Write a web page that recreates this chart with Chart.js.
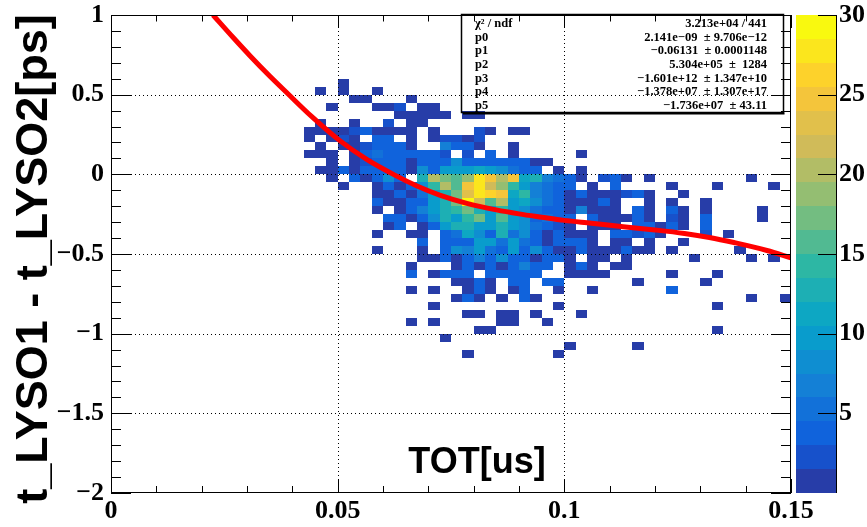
<!DOCTYPE html>
<html><head><meta charset="utf-8">
<script src="https://cdn.jsdelivr.net/npm/chart.js@4.4.0/dist/chart.umd.min.js"></script>
<style>html,body{margin:0;padding:0;background:#fff;}#wrap{width:867px;height:527px;}</style>
</head><body><div id="wrap"><canvas id="c" width="867" height="527"></canvas></div>
<script>
// ---- axis ranges / binning ----
const xRange = [0, 0.15];
const yRange = [-2, 1];
const nBinsX = 60, nBinsY = 60;
const firstBinX = 16;        // column index of counts[r][0]
const firstBinYFromTop = 8;  // row index (from the top) of counts[0]
const zMax = 30;
const nContours = 20;

// ---- tick labels ----
const xTicks = [0, 0.05, 0.1, 0.15];
const yTicks = [1, 0.5, 0, -0.5, -1, -1.5, -2];
const zTicks = [5, 10, 15, 20, 25, 30];

// ---- 2D histogram bin contents (rows top->bottom, y from 0.6 down; columns x from 0.04) ----
const counts = [
 [0,0,0,0, 1,0,0,0, 0,0,0,0, 0,0,0,0, 0,0,0,0, 0,0,0,0, 0,0,0,0, 0,0,0,0, 0,0,0,0, 0,0,0,0, 0,0,0,0],
 [0,0,1,0, 1,0,0,1, 0,0,0,0, 0,0,0,0, 0,0,0,0, 0,0,0,0, 0,0,0,0, 0,0,0,0, 0,0,0,0, 0,0,0,0, 0,0,0,0],
 [0,0,0,0, 0,1,1,0, 0,0,1,0, 0,0,0,0, 0,0,0,0, 0,0,0,0, 0,0,0,0, 0,0,0,0, 0,0,0,0, 0,0,0,0, 0,0,0,0],
 [0,0,0,1, 0,0,0,1, 1,2,0,1, 1,0,0,0, 0,0,0,0, 0,0,0,0, 0,0,0,0, 0,0,0,0, 0,0,0,0, 0,0,0,0, 0,0,0,0],
 [0,0,0,0, 0,0,0,0, 0,1,1,1, 1,1,0,1, 1,0,0,0, 0,0,0,0, 0,0,0,0, 0,0,0,0, 0,0,0,0, 0,0,0,0, 0,0,0,0],
 [0,0,1,0, 0,1,0,0, 2,0,1,1, 0,0,0,0, 0,0,0,0, 0,0,0,0, 0,0,0,0, 0,0,0,0, 0,0,0,0, 0,0,0,0, 0,0,0,0],
 [0,1,1,1, 1,2,3,1, 1,1,1,0, 1,0,0,0, 2,1,0,1, 1,0,0,0, 0,0,0,0, 0,0,0,0, 0,0,0,0, 0,0,0,0, 0,0,0,0],
 [0,1,0,1, 2,1,0,3, 3,0,1,0, 1,2,2,1, 2,0,0,0, 0,0,0,0, 0,0,0,0, 0,0,0,0, 0,0,0,0, 0,0,0,0, 0,0,0,0],
 [0,0,1,0, 1,1,2,3, 3,3,1,0, 0,6,3,3, 1,0,0,1, 0,0,0,0, 0,0,0,0, 0,0,0,0, 0,0,0,0, 0,0,0,0, 0,0,0,0],
 [0,1,1,1, 0,1,3,5, 3,3,3,3, 3,2,0,2, 0,3,0,1, 0,0,0,0, 0,1,0,0, 0,0,0,0, 0,0,0,0, 0,0,0,0, 0,0,0,0],
 [0,0,0,1, 0,1,2,3, 4,3,1,3, 4,3,8,3, 4,3,3,4, 3,1,1,0, 0,0,0,0, 0,0,0,0, 0,0,0,0, 0,0,0,0, 0,0,0,0],
 [0,0,1,1, 3,1,3,3, 4,3,1,8, 4,9,9,10, 11,9,8,5, 4,3,0,1, 0,1,0,0, 0,0,0,0, 0,0,0,0, 0,0,0,0, 0,0,0,0],
 [0,0,0,1, 0,4,1,4, 8,4,0,13, 20,17,16,18, 28,25,20,25, 11,13,6,5, 3,1,0,2, 3,1,0,1, 0,0,0,0, 0,0,0,0, 1,0,0,0],
 [0,0,0,0, 1,0,0,1, 4,1,4,8, 14,20,15,24, 27,21,19,14, 10,6,5,4, 3,0,1,0, 4,0,0,0, 0,1,0,0, 0,1,0,0, 0,0,1,0],
 [0,0,0,0, 0,0,0,1, 1,4,1,5, 10,13,17,23, 27,26,25,11, 14,6,5,3, 1,3,1,1, 1,2,3,1, 0,0,1,0, 0,0,0,0, 0,0,0,0],
 [0,0,0,0, 0,0,0,4, 1,1,4,4, 10,12,17,30, 21,15,20,10, 11,8,5,3, 1,1,1,3, 1,0,0,1, 0,1,0,0, 1,0,0,0, 0,0,0,0],
 [0,0,0,0, 0,0,0,1, 0,1,4,6, 10,12,14,17, 13,10,14,10, 8,5,4,4, 1,6,1,1, 1,0,3,1, 0,4,1,0, 1,0,0,0, 0,1,0,0],
 [0,0,0,0, 0,0,0,0, 4,3,1,4, 8,13,10,14, 17,10,15,10, 8,4,5,4, 3,0,3,1, 1,1,3,1, 0,2,1,0, 3,0,0,0, 0,1,0,0],
 [0,0,0,0, 0,0,0,0, 1,3,0,1, 4,9,12,13, 10,10,13,10, 8,5,4,2, 1,0,1,1, 1,0,3,3, 1,3,1,0, 3,0,0,0, 0,0,0,0],
 [0,0,0,0, 0,0,0,1, 0,0,1,1, 0,4,5,11, 8,4,12,5, 8,4,1,4, 1,1,1,0, 3,3,2,3, 1,0,0,0, 2,0,1,0, 0,0,0,0],
 [0,0,0,0, 0,0,0,0, 0,0,0,3, 0,4,4,4, 10,10,5,10, 5,4,1,4, 4,3,1,0, 1,1,0,1, 0,0,1,0, 0,0,0,0, 0,0,0,0],
 [0,0,0,0, 0,0,0,1, 0,0,0,1, 0,4,8,6, 10,5,4,10, 4,8,4,1, 1,3,1,1, 1,3,1,1, 0,1,0,0, 0,0,0,1, 0,0,0,0],
 [0,0,0,0, 0,0,0,0, 0,0,0,1, 1,3,1,4, 6,4,8,4, 4,1,4,4, 1,0,1,1, 0,1,0,0, 0,0,0,1, 0,0,0,0, 1,0,1,0],
 [0,0,0,0, 0,0,0,0, 0,0,1,0, 0,0,1,4, 1,4,1,4, 6,4,3,0, 1,3,1,0, 1,1,0,0, 0,0,0,0, 0,0,0,0, 0,0,0,0],
 [0,0,0,0, 0,0,0,0, 0,0,3,0, 1,4,4,4, 0,4,4,4, 4,4,0,0, 1,1,1,1, 0,0,0,0, 0,1,0,0, 0,1,0,0, 0,0,0,0],
 [0,0,0,0, 0,0,0,0, 0,0,0,0, 0,0,1,1, 3,1,0,4, 3,0,3,3, 0,0,0,0, 0,0,1,0, 0,0,0,0, 1,0,0,0, 0,0,0,0],
 [0,0,0,0, 0,0,0,0, 0,0,1,0, 1,0,0,1, 3,1,0,1, 3,0,0,1, 0,0,1,0, 0,0,0,0, 0,3,0,0, 0,0,0,0, 0,0,0,0],
 [0,0,0,0, 0,0,0,0, 0,0,0,0, 0,0,1,3, 1,0,1,0, 3,1,0,0, 0,0,0,0, 0,0,0,0, 0,0,0,0, 0,0,0,0, 1,0,0,1],
 [0,0,0,0, 0,0,0,0, 0,0,0,0, 1,0,0,0, 0,0,0,0, 0,0,0,1, 0,0,0,0, 0,0,0,0, 0,0,0,0, 0,1,0,0, 0,0,0,0],
 [0,0,0,0, 0,0,0,0, 0,0,0,0, 0,0,0,1, 1,0,1,1, 0,1,0,0, 0,1,0,0, 0,0,0,0, 0,0,0,0, 0,0,0,0, 0,0,0,0],
 [0,0,0,0, 0,0,0,0, 0,0,1,0, 1,0,0,0, 0,0,1,1, 0,0,1,0, 0,0,0,0, 0,0,0,0, 0,0,0,0, 0,0,0,0, 0,0,0,0],
 [0,0,0,0, 0,0,0,0, 0,0,0,0, 0,0,0,0, 1,1,0,0, 0,0,0,0, 0,0,0,0, 0,0,0,0, 0,0,0,0, 0,1,0,0, 0,0,0,0],
 [0,0,0,0, 0,0,0,0, 0,0,0,0, 0,1,0,0, 0,0,0,0, 0,0,0,0, 0,0,0,0, 0,0,0,0, 0,0,0,0, 0,0,0,0, 0,0,0,0],
 [0,0,0,0, 0,0,0,0, 0,0,0,0, 0,0,0,0, 0,0,0,0, 0,0,0,0, 1,0,0,0, 0,0,1,0, 0,0,0,0, 0,0,0,0, 0,0,0,0],
 [0,0,0,0, 0,0,0,0, 0,0,0,0, 0,0,0,1, 0,0,0,0, 0,0,0,1, 0,0,0,0, 0,0,0,0, 0,0,0,0, 0,0,0,0, 0,0,0,0]
];

// ---- fitted curve ----
const fitX = [0.0225,0.027,0.0307,0.035,0.0388,0.0443,0.0504,0.0565,0.0626,0.0675,0.0725,0.0785,0.085,0.09,0.095,0.1,0.106,0.113,0.12,0.1265,0.132,0.1374,0.1447,0.15];
const fitY = [1.0,0.857,0.743,0.617,0.512,0.362,0.213,0.092,-0.005,-0.073,-0.130,-0.182,-0.223,-0.248,-0.269,-0.289,-0.307,-0.329,-0.349,-0.371,-0.396,-0.428,-0.478,-0.525];

// ---- stats box ----
const statsNames = ["\u03C7\u00B2 / ndf","p0","p1","p2","p3","p4","p5"];
const statsValues = ["3.213e+04 / 441","2.141e\u221209  \u00B1 9.706e\u221212","\u22120.06131  \u00B1 0.0001148","5.304e+05  \u00B1  1284","\u22121.601e+12  \u00B1 1.347e+10","\u22121.378e+07  \u00B1 1.307e+17","\u22121.736e+07  \u00B1 43.11"];

const xTitle = "TOT[us]";
const yTitle = "t_LYSO1 - t_LYSO2[ps]";

// ---- kBird palette ----
const birdStops = [0,0.125,0.25,0.375,0.5,0.625,0.75,0.875,1];
const birdR = [0.2082,0.0592,0.0780,0.0232,0.1802,0.5301,0.8186,0.9956,0.9764];
const birdG = [0.1664,0.3599,0.5041,0.6419,0.7178,0.7492,0.7328,0.7862,0.9832];
const birdB = [0.5293,0.8684,0.8385,0.7914,0.6425,0.4662,0.3499,0.1968,0.0539];
function bird(t){
  let s=0; while(s<birdStops.length-2 && t>birdStops[s+1]) s++;
  const f=(t-birdStops[s])/(birdStops[s+1]-birdStops[s]);
  const c=a=>Math.round(255*(a[s]+(a[s+1]-a[s])*f));
  return `rgb(${c(birdR)},${c(birdG)},${c(birdB)})`;
}
function levelColor(k){ const idx=Math.min(254,Math.floor((k+0.99)*255/nContours)); return bird(idx/255); }
function levelOf(z){ return Math.min(nContours-1, Math.floor(0.01+z*nContours/zMax)); }
const fmt = v => { let s = (Math.round(v*1000)/1000).toString(); return s.replace('-', '\u2212'); };

const SERIF = "'Liberation Serif','DejaVu Serif',serif";
const SANS = "'Liberation Sans',Arial,sans-serif";

const rootPlugin = {
  id:'root',
  beforeDatasetsDraw(chart){
    const {ctx, chartArea:a, scales:{x,y}} = chart;
    const dx=(xRange[1]-xRange[0])/nBinsX, dy=(yRange[1]-yRange[0])/nBinsY;
    ctx.save();
    ctx.beginPath(); ctx.rect(a.left,a.top,a.right-a.left,a.bottom-a.top); ctx.clip();
    counts.forEach((row,r)=>{
      row.forEach((z,c)=>{
        if(!z) return;
        const xv0=xRange[0]+(firstBinX+c)*dx, yv0=yRange[1]-(firstBinYFromTop+r)*dy;
        const px0=Math.round(x.getPixelForValue(xv0)), px1=Math.round(x.getPixelForValue(xv0+dx));
        const py0=Math.round(y.getPixelForValue(yv0)), py1=Math.round(y.getPixelForValue(yv0-dy));
        ctx.fillStyle=levelColor(levelOf(z));
        ctx.fillRect(px0,py0,px1-px0,py1-py0);
      });
    });
    // dotted grid
    ctx.strokeStyle='#000'; ctx.lineWidth=1; ctx.setLineDash([1,3]);
    xTicks.forEach(v=>{ const p=Math.round(x.getPixelForValue(v))+0.5; if(p<=a.left+1||p>=a.right-1) return;
      ctx.beginPath(); ctx.moveTo(p,a.top); ctx.lineTo(p,a.bottom); ctx.stroke(); });
    yTicks.forEach(v=>{ const p=Math.round(y.getPixelForValue(v))+0.5; if(p<=a.top+1||p>=a.bottom-1) return;
      ctx.beginPath(); ctx.moveTo(a.left,p); ctx.lineTo(a.right,p); ctx.stroke(); });
    ctx.restore();
  },
  afterDatasetsDraw(chart){
    const {ctx, chartArea:a, scales:{x,y,z}} = chart;
    ctx.save();
    ctx.strokeStyle='#000'; ctx.lineWidth=1; ctx.setLineDash([]);
    // frame
    ctx.strokeRect(a.left+0.5,a.top+0.5,a.right-a.left-1,a.bottom-a.top-1);
    // ticks on all four sides
    const xStepMinor=0.01, yStepMinor=0.1;
    ctx.beginPath();
    for(let i=0;i<=Math.round((xRange[1]-xRange[0])/xStepMinor);i++){
      const v=xRange[0]+i*xStepMinor; const p=Math.round(x.getPixelForValue(v))+0.5;
      const major = xTicks.some(t=>Math.abs(t-v)<1e-9);
      ctx.moveTo(p,a.bottom); ctx.lineTo(p,a.bottom-(major?14:7));
      ctx.moveTo(p,a.top); ctx.lineTo(p,a.top+(major?13:6.5));
    }
    for(let i=0;i<=Math.round((yRange[1]-yRange[0])/yStepMinor);i++){
      const v=yRange[0]+i*yStepMinor; const p=Math.round(y.getPixelForValue(v))+0.5;
      const major = yTicks.some(t=>Math.abs(t-v)<1e-9);
      const L = major?20:10;
      ctx.moveTo(a.left,p); ctx.lineTo(a.left+L,p);
      ctx.moveTo(a.right,p); ctx.lineTo(a.right-L,p);
    }
    ctx.stroke();
    // palette
    const pl=796, pr=836;
    for(let k=0;k<nContours;k++){
      const z0=k*zMax/nContours, z1=(k+1)*zMax/nContours;
      const py0=Math.round(z.getPixelForValue(z1)), py1=Math.round(z.getPixelForValue(z0));
      ctx.fillStyle=levelColor(k); ctx.fillRect(pl,py0,pr-pl,py1-py0);
    }
    ctx.beginPath(); ctx.moveTo(pr+0.5,z.getPixelForValue(zMax)); ctx.lineTo(pr+0.5,z.getPixelForValue(0));
    zTicks.forEach(v=>{ const p=Math.round(z.getPixelForValue(v))+0.5; ctx.moveTo(pr,p); ctx.lineTo(pr-18,p); });
    ctx.stroke();
    // stats box
    const bx0=461, by0=14, bx1=783, by1=112;
    ctx.lineWidth=1.5; ctx.strokeRect(bx0+0.5,by0+0.5,bx1-bx0,by1-by0);
    ctx.lineWidth=2; ctx.beginPath(); ctx.moveTo(bx0+2,by1+1.5); ctx.lineTo(bx1+1.5,by1+1.5); ctx.stroke();
    ctx.fillStyle='#000'; ctx.font=`bold 12.5px ${SERIF}`; ctx.textBaseline='middle';
    const rowY=[24,37.5,51,64.5,78.5,92,106];
    statsNames.forEach((n,i)=>{ ctx.textAlign='left'; ctx.fillText(n,475,rowY[i]); ctx.textAlign='right'; ctx.fillText(statsValues[i],767,rowY[i]); });
    // x title
    ctx.font=`bold 36px ${SANS}`; ctx.textAlign='center'; ctx.textBaseline='alphabetic';
    ctx.fillText(xTitle,477,473);
    // y title
    ctx.save(); ctx.translate(47,259); ctx.rotate(-Math.PI/2);
    ctx.font=`bold 45px ${SANS}`; ctx.fillText(yTitle,0,0); ctx.restore();
    ctx.restore();
  }
};

const noPad = s => { s.paddingTop=0; s.paddingBottom=0; s.paddingLeft=0; s.paddingRight=0; };
const tickFont = {family: SERIF, weight:'bold', size:26, lineHeight:1};
new Chart(document.getElementById('c'), {
  type:'scatter',
  data:{datasets:[{
    data: fitX.map((v,i)=>({x:v,y:fitY[i]})),
    showLine:true, borderColor:'#ff0000', borderWidth:5, pointRadius:0,
    cubicInterpolationMode:'monotone', clip:0
  }]},
  options:{
    responsive:false, animation:false, devicePixelRatio:1,
    layout:{padding:{top:15,left:0,right:0,bottom:0}},
    plugins:{legend:{display:false}, tooltip:{enabled:false}},
    scales:{
      x:{type:'linear', position:'bottom', min:xRange[0], max:xRange[1],
         grid:{display:false, drawTicks:false}, border:{display:false},
         ticks:{font:tickFont, color:'#000', padding:5, autoSkip:false, maxRotation:0, callback:v=>fmt(v)},
         afterBuildTicks:s=>{s.ticks=xTicks.map(v=>({value:v}));},
         afterFit:s=>{s.height=34; noPad(s);}},
      y:{type:'linear', position:'left', min:yRange[0], max:yRange[1],
         grid:{display:false, drawTicks:false}, border:{display:false},
         ticks:{font:tickFont, color:'#000', padding:7, autoSkip:false, callback:v=>fmt(v)},
         afterBuildTicks:s=>{s.ticks=yTicks.map(v=>({value:v}));},
         afterFit:s=>{s.width=111; noPad(s);}},
      z:{type:'linear', position:'right', min:0, max:zMax,
         grid:{display:false, drawTicks:false}, border:{display:false},
         ticks:{font:tickFont, color:'#000', padding:48, autoSkip:false, callback:v=>fmt(v)},
         afterBuildTicks:s=>{s.ticks=zTicks.map(v=>({value:v}));},
         afterFit:s=>{s.width=76; noPad(s);}}
    }
  },
  plugins:[rootPlugin]
});
</script></body></html>
